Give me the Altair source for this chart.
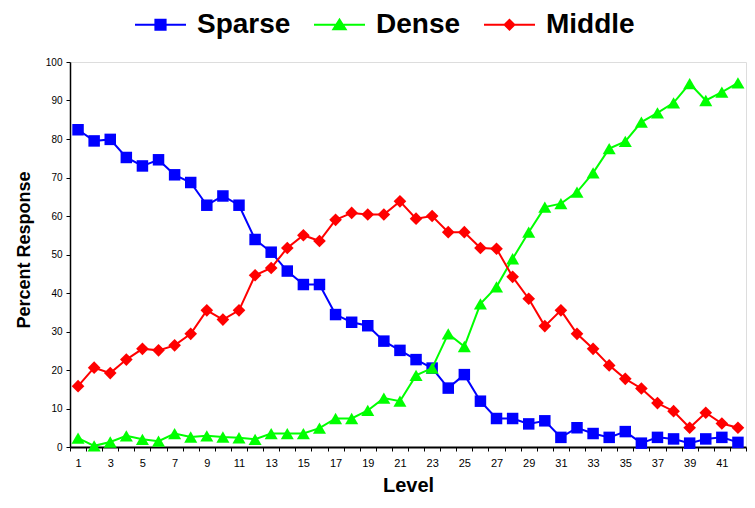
import altair as alt
import pandas as pd

LEVELS = list(range(1, 43))
SERIES = ["Sparse", "Dense", "Middle"]
COLORS = ["#0000FF", "#00FF00", "#FF0000"]

sparse = [82.4, 79.5, 79.9, 75.2, 73.0, 74.6, 70.7, 68.7, 62.8, 65.2,
          62.8, 53.9, 50.6, 45.7, 42.2, 42.2, 34.4, 32.4, 31.5, 27.5,
          25.1, 22.7, 20.5, 15.3, 18.8, 11.9, 7.4, 7.4, 6.0, 6.8,
          2.5, 5.0, 3.5, 2.5, 4.0, 1.0, 2.5, 2.1, 1.0, 2.1, 2.5, 1.2]
dense = [2.3, 0.3, 1.3, 2.9, 2.0, 1.5, 3.5, 2.6, 2.9, 2.6,
         2.4, 2.0, 3.5, 3.5, 3.5, 4.9, 7.4, 7.4, 9.5, 12.7,
         11.9, 18.6, 20.5, 29.4, 26.1, 37.2, 41.6, 48.9, 55.8, 62.3,
         63.2, 66.2, 71.2, 77.5, 79.4, 84.4, 86.8, 89.4, 94.4, 90.0, 92.2, 94.6]
middle = [15.8, 20.6, 19.2, 22.7, 25.5, 25.1, 26.4, 29.4, 35.5, 33.1,
          35.5, 44.6, 46.5, 51.7, 55.0, 53.5, 59.0, 60.8, 60.4, 60.4,
          63.8, 59.3, 60.0, 55.8, 55.8, 51.7, 51.5, 44.2, 38.5, 31.4,
          35.5, 29.4, 25.5, 21.2, 17.7, 15.2, 11.4, 9.3, 5.0, 8.9, 6.1, 5.0]

rows = []
for name, vals in zip(SERIES, [sparse, dense, middle]):
    for lv, v in zip(LEVELS, vals):
        rows.append({"level": lv, "series": name, "value": v})
df = pd.DataFrame(rows)

FONT = "Liberation Sans"
W, H = 676, 385

x_enc = alt.X(
    "level:O",
    scale=alt.Scale(type="band", paddingInner=0, paddingOuter=0),
    axis=alt.Axis(
        labelAngle=0,
        labelExpr="datum.value % 2 == 1 ? datum.label : ''",
        labelOverlap=False,
        tickBand="extent",
        tickSize=4,
        labelPadding=6,
        labelFontSize=11,
        labelFont=FONT,
        labelColor="black",
        domainWidth=2,
        domainColor="black",
        tickColor="black",
        grid=False,
        title="Level",
        titleFont=FONT,
        titleFontSize=20,
        titleFontWeight="bold",
        titleColor="black",
        titleX=W / 2,
        titleY=44,
        titleBaseline="alphabetic",
        titleAlign="center",
    ),
)
y_enc = alt.Y(
    "value:Q",
    scale=alt.Scale(domain=[0, 100], nice=False, zero=True),
    axis=alt.Axis(
        values=list(range(0, 101, 10)),
        grid=False,
        tickSize=4,
        labelPadding=4,
        labelFontSize=10,
        labelFont=FONT,
        labelColor="black",
        domainWidth=1.5,
        domainColor="black",
        tickColor="black",
        title="Percent Response",
        titleFont=FONT,
        titleFontSize=18,
        titleFontWeight="bold",
        titleColor="black",
        titleX=-37,
        titleY=H / 2 - 5,
        titleAngle=270,
        titleBaseline="bottom",
        titleAlign="center",
    ),
)
color_enc = alt.Color("series:N", scale=alt.Scale(domain=SERIES, range=COLORS), legend=None)

base = alt.Chart(df)
shapes = {"Sparse": ("square", 132), "Dense": ("triangle-up", 170), "Middle": ("diamond", 160)}

layers = []
for s in SERIES:
    sub = base.transform_filter(alt.datum.series == s)
    layers.append(sub.mark_line(strokeWidth=2).encode(x=x_enc, y=y_enc, color=color_enc))
    shp, sz = shapes[s]
    layers.append(sub.mark_point(shape=shp, size=sz, filled=True, opacity=1).encode(
        x=x_enc, y=y_enc, color=color_enc))

LEGEND_PATHS = [
    "M-1,0L1,0M-0.2,-0.2L0.2,-0.2L0.2,0.2L-0.2,0.2Z",
    "M-1,0L1,0M-0.24,0.18L0.24,0.18L0,-0.2Z",
    "M-1,0L1,0M-0.19,0L0,-0.19L0.19,0L0,0.19Z",
]
leg = alt.Legend(
    title=None, orient="none", legendX=64, legendY=-64, direction="horizontal",
    symbolSize=2601, symbolStrokeWidth=2, symbolOpacity=1,
    labelFont=FONT, labelFontSize=28, labelFontWeight="bold", labelColor="black",
    labelOffset=10, columnPadding=19, padding=0,
)
legend_layer = base.mark_point(strokeWidth=2).encode(
    x=x_enc, y=y_enc,
    opacity=alt.value(0),
    fill=alt.Fill("series:N", scale=alt.Scale(domain=SERIES, range=COLORS), legend=leg),
    stroke=alt.Stroke("series:N", scale=alt.Scale(domain=SERIES, range=COLORS), legend=leg),
    shape=alt.Shape("series:N", scale=alt.Scale(domain=SERIES, range=LEGEND_PATHS), legend=leg),
)
layers.insert(0, legend_layer)

chart = alt.layer(*layers).properties(
    width=W, height=H,
    autosize=alt.AutoSizeParams(type="none"),
    padding={"left": 62, "top": 54, "right": 1, "bottom": 49},
).configure_view(stroke=None).configure(background="white")

chart.save("out.html", embed_options={"renderer": "svg", "actions": False})
